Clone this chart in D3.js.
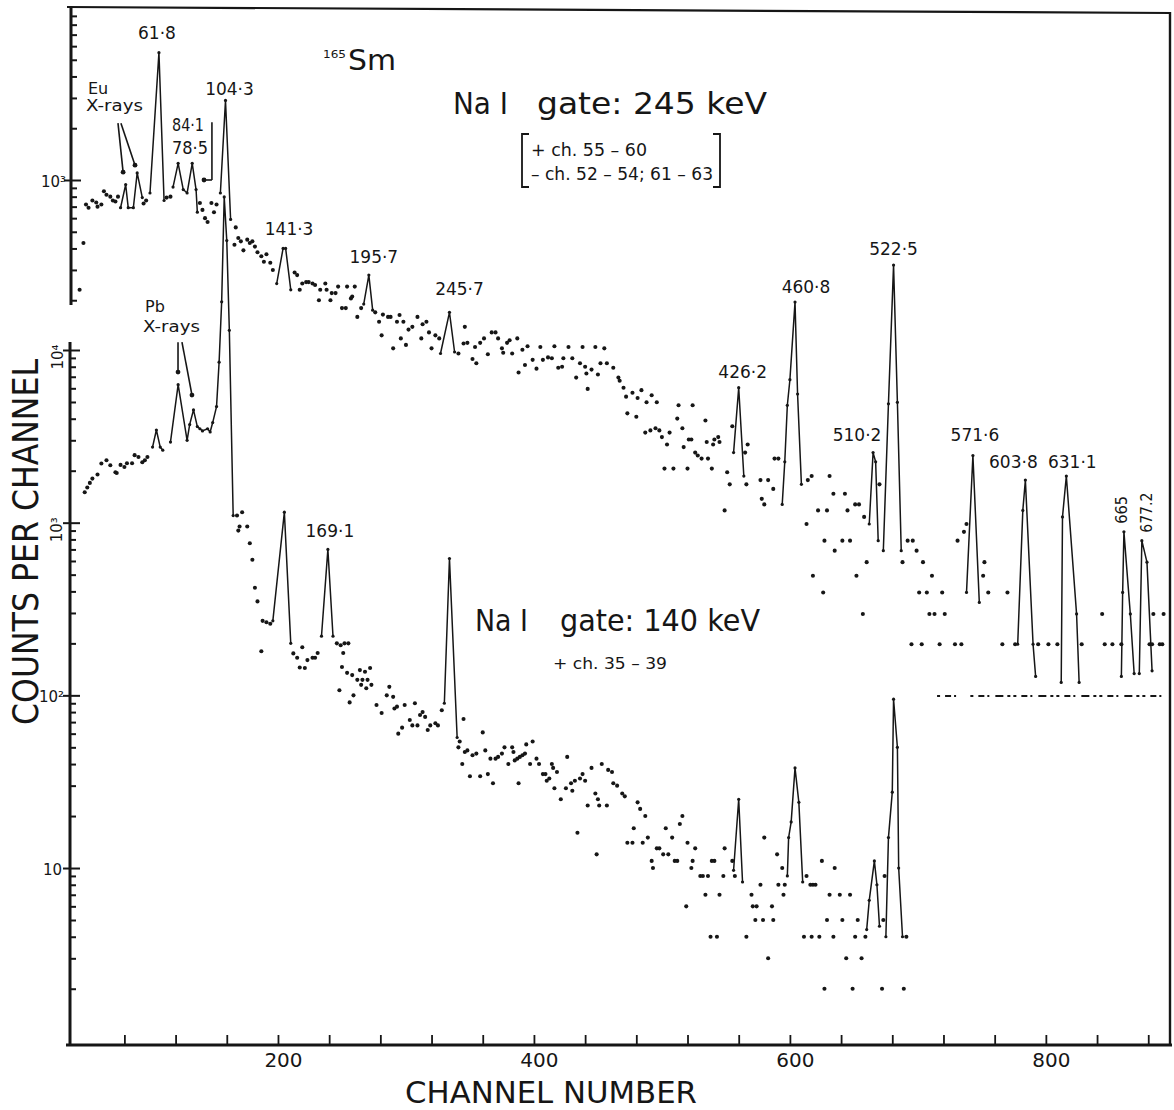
<!DOCTYPE html>
<html>
<head>
<meta charset="utf-8">
<script src="https://cdn.jsdelivr.net/npm/d3@7/dist/d3.min.js"></script>
<style>
  html, body { margin: 0; padding: 0; background: #fff; }
  svg { display: block; }
  text { font-family: "DejaVu Sans", "Liberation Sans", sans-serif; fill: #161616; }
  .narrow { font-family: "Liberation Sans Narrow", "DejaVu Sans Condensed", "Liberation Sans", sans-serif; }
</style>
</head>
<body>
<svg id="chart" width="1174" height="1110"></svg>
<script>
// ---------------------------------------------------------------
// 165Sm coincidence spectra, counts per channel vs channel number.
// Spectrum A: NaI gate 245 keV (plotted on the upper, offset scale)
// Spectrum B: NaI gate 140 keV (plotted on the lower scale)
// Each entry is [channel, counts].
// ---------------------------------------------------------------

// Gate 245 keV: isolated channel points
const gate245Points = [
  [45,230],[48,430],[50,720],[52,690],[55,760],[58,740],[59,700],[62,720],[64,860],[66,820],[69,800],[71,760],[73,750],[75,800],
  [95,730],[97,760],[113,790],[116,800],
  [139,735],[141,670],[143,600],[145,570],[148,735],[150,650],[152,720],
  [166,420],[167,530],[169,460],[171,440],[173,390],[176,450],[178,430],[180,440],[182,410],[184,380],[187,360],[189,335],[191,370],[194,330],[196,300],
  [213,290],[215,280],[217,230],[219,250],[222,255],[224,255],[227,250],[229,245],[232,200],[233,230],[237,250],[238,230],[241,200],[242,220],[245,220],[247,240],[250,180],[253,180],[254,240],[257,205],[258,210],[260,240],[262,160],[265,180],
  [276,170],[279,150],[281,125],[282,165],[286,160],[288,160],[290,105],[293,150],[295,164],[296,120],[298,150],[300,110],[302,135],[305,140],[309,160],[312,120],[313,145],[316,150],[318,130],[320,105],[323,125],[326,120],
  [341,98],[345,112],[346,140],[348,113],[352,91],[354,107],[355,86],[358,113],[361,120],[364,97],[367,130],[370,130],[372,120],[375,105],[376,99],[379,113],[381,117],[383,98],[387,120],[388,76],[391,103],[393,84],[395,108],[399,90],
  [402,80],[405,107],[407,90],[411,93],[414,92],[416,108],[419,81],[422,82],[423,92],[427,107],[430,92],[433,71],[436,86],[438,107],[440,82],[441,75],[442,61],[445,79],[448,107],[450,74],[452,86],[455,105],[457,86],
  [462,81],[466,71],[467,68],[470,62],[472,55],[473,44],[477,58],[480,42],[481,54],[484,60],[487,34],[488,51],[491,35],[492,56],[495,36],[496,51],[498,35],[500,32],
  [502,21],[504,29],[506,34],[509,21],[512,41],[513,49],[516,36],[517,28],[520,21],[521,31],[523,31],[524,49],[526,26],[528,25],[531,24],[534,40],[535,30],[536,24],[539,21],[540,29],[541,31],[544,32],[545,30],[549,12],[551,20],[553,17],[555,37],
  [565,26],[566,17],[567,29],[577,18],[578,14],[580,13],[583,18],[587,16],[588,24],[591,24],
  [613,10],[614,18],[617,19],[618,5],[622,12],[626,4],[627,8],[629,12],[631,19],[634,15],[635,7],[641,8],[643,15],[645,12],[647,8],[651,13],[652,5],[654,13],[657,3],[658,11],[660,6],
  [670,17],
  [688,6],[692,8],[695,2],[696,8],[699,7],[701,4],[703,2],[704,6],[707,4],[709,3],[711,5],[713,3],[717,2],[719,4],[721,3],[729,2],[731,8],[734,2],[736,9],[738,10],
  [751,5],[752,6],[755,4],[766,2],[770,4],[776,2],[794,2],[802,2],[809,2],
  [828,2],[844,3],[846,2],[852,2],[859,2],[881,2],[883,2],[884,3],[889,2],[891,2],[892,3]
];

// Gate 245 keV: peaks traced as connected lines
const gate245Peaks = [
  [[77,690],[81,940],[83,690],[87,690],[90,1100],[94,790]],            // Eu X-rays
  [[100,840],[107,5500],[111,760]],                                     // 61.8
  [[118,910],[122,1250],[126,880],[129,840],[133,1250],[136,880],[137,650]], // 78.5 / 84.1
  [[155,840],[159,2900],[163,590]],                                     // 104.3
  [[199,250],[204,400],[206,400],[210,230]],                            // 141.3
  [[267,190],[271,280],[274,175]],                                      // 195.7
  [[327,98],[334,170],[338,100]],                                       // 245.7
  [[556,26],[560,62],[564,19]],                                         // 426.2
  [[594,13],[596,23],[598,49],[600,69],[604,195],[606,57],[609,17]],    // 460.8
  [[662,10],[665,26],[667,23],[669,8]],                                 // 510.2
  [[673,7],[677,50],[681,320],[684,51],[687,7]],                        // 522.5
  [[738,4],[743,25],[748,3.5]],                                         // 571.6
  [[778,2],[782,12],[784,18],[790,2],[792,1.3]],                        // 603.8
  [[812,1.2],[813,11],[816,19],[824,3],[826,1.2]],                      // 631.1
  [[859,1.3],[860,4],[861,9],[866,3],[869,1.35]],                       // 665
  [[873,1.35],[875,8],[879,6],[883,1.4]]                                // 677.2
];

// Gate 245 keV: channel runs holding a single count
const gate245SingleCountRuns = [[715,734],[741,894]];

// Gate 140 keV: isolated channel points
const gate140Points = [
  [49,1500],[51,1600],[53,1700],[55,1800],[59,1900],[62,2200],[66,2300],[69,2150],[73,1960],[74,1940],[77,2160],[80,2100],[82,2210],[86,2210],[88,2460],[91,2400],[94,2240],[96,2300],[98,2400],
  [168,1100],[169,900],[170,950],[172,1150],[176,950],[178,760],[180,610],[182,420],[184,350],[187,180],[188,270],[191,265],[194,260],
  [212,175],[215,165],[217,145],[219,190],[221,144],[223,160],[227,165],[229,165],[231,176],
  [246,200],[248,107],[249,195],[250,146],[251,176],[252,200],[254,135],[255,200],[256,91],[258,131],[259,100],[262,123],[264,140],[265,115],[266,123],[268,137],[269,110],[270,123],[272,144],[273,115],
  [277,88],[281,79],[285,100],[287,112],[290,98],[291,84],[293,86],[294,60],[297,65],[299,88],[303,72],[305,67],[307,90],[309,67],[311,77],[313,80],[315,75],[317,63],[319,67],[323,69],[325,67],[328,82],
  [341,50],[342,54],[344,40],[345,73],[346,47],[348,48],[350,34],[352,45],[355,46],[358,34],[360,61],[362,48],[364,35],[366,43],[368,31],[370,43],[372,44],[375,46],[377,50],[380,40],
  [383,50],[384,47],[385,42],[387,43],[388,31],[389,44],[391,45],[393,46],[394,52],[397,40],[399,54],[402,43],[404,40],[407,35],[409,35],[410,32],[412,33],[414,40],[415,38],[416,29],[418,36],
  [421,25],[425,29],[426,44],[429,31],[430,28],[432,32],[434,16],[436,33],[438,35],[440,32],[442,23],[445,38],[448,27],[449,12],[450,25],[451,23],[453,40],[457,23],[458,37],[461,36],[462,31],[465,30],[469,27],[471,26],
  [473,14],[477,14],[478,17],[481,24],[483,22],[485,14],[487,20],[489,15],[492,11],[493,10],[496,13],[498,13],[501,12],[503,17],[505,12],[508,15],[510,11],[512,11],[514,18],[516,20],[519,6],[520,14],[523,10],[524,11],[526,13],
  [530,9],[532,9],[534,7],[536,9],[538,4],[539,11],[541,11],[543,4],[545,7],[548,9],[549,13],[555,11],[557,9],
  [566,4],[570,7],[571,6],[573,5],[574,6],[577,8],[579,5],[580,15],[583,3],[586,6],[587,5],[590,12],[591,8],[594,10],[595,7],[596,8],
  [611,4],[613,9],[616,8],[617,4],[618,8],[620,8],[623,4],[625,11],[627,2],[629,5],[631,7],[634,4],[635,10],[639,7],[641,5],[644,3],[647,7],[649,2],[651,4],[653,5],[656,3],[659,4],
  [672,2],[673,5],[674,9],[689,2],[691,4]
];

// Gate 140 keV: peaks traced as connected lines
const gate140Peaks = [
  [[102,2740],[105,3440],[108,2740],[110,2630]],
  [[116,2930],[122,6300],[129,3000],[131,3700],[134,4500],[137,3600],[139,3500],[141,3400],[145,3500],[147,3350],[149,3800],
   [152,4700],[154,8500],[156,19000],[158,77000],[160,43000],[162,13000],[165,1100]],
  [[196,270],[205,1150],[210,200]],
  [[234,220],[239,700],[243,220]],                                      // 169.1
  [[330,90],[334,620],[340,57]],
  [[556,9.7],[560,25],[563,8.3]],
  [[598,9],[599,15],[601,18.5],[604,38],[607,24],[610,8.3]],
  [[660,4.4],[662,6.5],[666,11],[668,8],[670,4.6]],
  [[675,4],[677,15],[680,27.5],[681,95],[684,50],[685,10],[688,4]]
];

// Axis ticks
const channelTicks = [80,120,160,200,240,280,320,360,400,440,480,520,560,600,640,680,720,760,800,840,880];
const channelLabels = [200,400,600,800];
const lowerMajor = [10,100,1000,10000];
const upperMajor = [1000];

// Energy labels (keV) attached to peak tops
const peakLabels = [
  {text:"61·8",  ch:107, v:5500, scale:"up",  dx:-2,  dy:-14},
  {text:"104·3", ch:159, v:2900, scale:"up",  dx:4,   dy:-5},
  {text:"141·3", ch:204, v:400,  scale:"up",  dx:6,   dy:-13},
  {text:"195·7", ch:271, v:280,  scale:"up",  dx:5,   dy:-12},
  {text:"245·7", ch:334, v:170,  scale:"up",  dx:10,  dy:-17},
  {text:"426·2", ch:560, v:62,   scale:"up",  dx:4,   dy:-10},
  {text:"460·8", ch:604, v:195,  scale:"up",  dx:11,  dy:-9},
  {text:"522·5", ch:681, v:320,  scale:"up",  dx:0,   dy:-10},
  {text:"510·2", ch:665, v:26,   scale:"up",  dx:-16, dy:-12},
  {text:"571·6", ch:743, v:25,   scale:"up",  dx:2,   dy:-15},
  {text:"603·8", ch:784, v:18,   scale:"up",  dx:-12, dy:-12},
  {text:"631·1", ch:816, v:19,   scale:"up",  dx:6,   dy:-8},
  {text:"169·1", ch:239, v:700,  scale:"low", dx:2,   dy:-12}
];
const verticalLabels = [
  {text:"665",   ch:861, v:9, scale:"up", dx:3,  dy:-8, len:28},
  {text:"677.2", ch:875, v:8, scale:"up", dx:10, dy:-8, len:40}
];

// Pointer lines for X-ray groups, in channel / count coordinates
const pointers = [
  {scale:"up",  from:[75,2140],  to:[79,1110],  head:true},
  {scale:"up",  from:[77.3,2140],to:[88.3,1220],head:true},
  {scale:"up",  from:[148.4,2170],to:[148.4,1000],head:false},
  {scale:"up",  from:[148.4,1000],to:[142.2,1000],head:true},
  {scale:"low", from:[121.9,11100],to:[121.9,7450],head:true},
  {scale:"low", from:[125,11100], to:[132.8,5480], head:true}
];

// ---------------------------------------------------------------
const ink = "#161616";
const svg = d3.select("#chart");

const x = d3.scaleLinear().domain([37.5, 897]).range([70, 1170]);
const yUp = d3.scaleLog().domain([1, 10000]).range([696, 8]);
const yLow = d3.scaleLog().domain([1, 10000]).range([1040.7, 350]);
const scaleOf = k => (k === "up" ? yUp : yLow);

// frame: top and right borders
svg.append("line").attr("x1", 67).attr("y1", 7).attr("x2", 1171).attr("y2", 13)
  .attr("stroke", ink).attr("stroke-width", 2.2);
svg.append("line").attr("x1", 1170).attr("y1", 12).attr("x2", 1170).attr("y2", 1046)
  .attr("stroke", ink).attr("stroke-width", 2.4);

// bottom channel axis, ticks pointing inward
const xAxis = d3.axisBottom(x)
  .tickValues(channelTicks)
  .tickSizeInner(-10).tickSizeOuter(0).tickPadding(8)
  .tickFormat(d => channelLabels.includes(d) ? d : "");
const gx = svg.append("g").attr("transform", "translate(0,1045)").call(xAxis);
gx.select(".domain").remove();
gx.selectAll(".tick line").attr("stroke", ink).attr("stroke-width", 1.8);
gx.selectAll(".tick text").attr("font-size", 20).attr("dx", 5)
  .attr("font-family", "DejaVu Sans, sans-serif").attr("fill", ink);
svg.append("line").attr("x1", 66).attr("y1", 1045).attr("x2", 1172).attr("y2", 1045)
  .attr("stroke", ink).attr("stroke-width", 3);

// left count axes: lower (gate 140) and upper offset segment (gate 245)
function minorValues(decades) {
  const out = [];
  decades.forEach(d => { for (let k = 2; k <= 9; k++) out.push(k * d); });
  return out;
}
function drawLogAxis(scale, xPos, minors, majors) {
  const gMinor = svg.append("g").attr("transform", `translate(${xPos},0)`)
    .call(d3.axisRight(scale).tickValues(minors).tickSize(6).tickFormat(""));
  gMinor.select(".domain").remove();
  gMinor.selectAll(".tick line").attr("stroke", ink).attr("stroke-width", 2);
  const gMajor = svg.append("g").attr("transform", `translate(${xPos - 7},0)`)
    .call(d3.axisRight(scale).tickValues(majors).tickSize(17).tickFormat(""));
  gMajor.select(".domain").remove();
  gMajor.selectAll(".tick line").attr("stroke", ink).attr("stroke-width", 2);
}
drawLogAxis(yLow, 70, minorValues([1,10,100,1000]), lowerMajor);
drawLogAxis(yUp, 71, minorValues([100,1000]).filter(v => v >= 200), upperMajor);
svg.append("line").attr("x1", 70).attr("y1", 342).attr("x2", 70).attr("y2", 1046)
  .attr("stroke", ink).attr("stroke-width", 3);
svg.append("line").attr("x1", 71).attr("y1", 6).attr("x2", 71).attr("y2", 305)
  .attr("stroke", ink).attr("stroke-width", 3);

// decade labels
const decadeLabels = [
  {t:"10",  y:yLow(10),    rot:false, xEnd:62},
  {t:"10²", y:yLow(100),   rot:false, xEnd:64},
  {t:"10³", y:yLow(1000),  rot:true,  xEnd:62},
  {t:"10⁴", y:yLow(10000), rot:true,  xEnd:63},
  {t:"10³", y:yUp(1000),   rot:false, xEnd:66}
];
decadeLabels.forEach(d => {
  if (d.rot) {
    svg.append("text").attr("transform", `translate(${d.xEnd},${d.y + 7}) rotate(-90)`)
      .attr("text-anchor", "middle").attr("font-size", 15).text(d.t);
  } else {
    svg.append("text").attr("x", d.xEnd).attr("y", d.y + 7)
      .attr("text-anchor", "end").attr("font-size", 15).text(d.t);
  }
});

// axis titles
svg.append("text").attr("class", "narrow")
  .attr("x", 405).attr("y", 1103)
  .attr("font-size", 31).attr("textLength", 292).attr("lengthAdjust", "spacingAndGlyphs")
  .text("CHANNEL  NUMBER");
svg.append("text").attr("class", "narrow")
  .attr("transform", "translate(38,542) rotate(-90)")
  .attr("text-anchor", "middle")
  .attr("font-size", 35).attr("textLength", 366).attr("lengthAdjust", "spacingAndGlyphs")
  .text("COUNTS  PER  CHANNEL");

// spectra
function drawSpectrum(points, peaks, scale) {
  const line = d3.line().x(d => x(d[0])).y(d => scale(d[1]));
  svg.append("g").selectAll("path").data(peaks).join("path")
    .attr("d", line).attr("fill", "none").attr("stroke", ink)
    .attr("stroke-width", 1.5).attr("stroke-linejoin", "round");
  svg.append("g").selectAll("circle").data(peaks.flat()).join("circle")
    .attr("cx", d => x(d[0])).attr("cy", d => scale(d[1])).attr("r", 1.6).attr("fill", ink);
  svg.append("g").selectAll("circle").data(points).join("circle")
    .attr("cx", d => x(d[0])).attr("cy", d => scale(d[1])).attr("r", 2.05).attr("fill", ink);
}
drawSpectrum(gate245Points, gate245Peaks, yUp);
drawSpectrum(gate140Points, gate140Peaks, yLow);

// single-count channel runs of the 245 keV spectrum
svg.append("g").selectAll("line").data(gate245SingleCountRuns).join("line")
  .attr("x1", d => x(d[0])).attr("x2", d => x(d[1]))
  .attr("y1", yUp(1)).attr("y2", yUp(1))
  .attr("stroke", ink).attr("stroke-width", 2.2)
  .attr("stroke-dasharray", "3 5 6 3 2 6 8 4 3 3");

// peak energy labels
svg.append("g").selectAll("text").data(peakLabels).join("text")
  .attr("x", d => x(d.ch) + d.dx)
  .attr("y", d => scaleOf(d.scale)(d.v) + d.dy)
  .attr("text-anchor", "middle").attr("font-size", 17)
  .text(d => d.text);
svg.append("g").selectAll("text").data(verticalLabels).join("text")
  .attr("transform", d => `translate(${x(d.ch) + d.dx},${scaleOf(d.scale)(d.v) + d.dy}) rotate(-90)`)
  .attr("font-size", 16).attr("textLength", d => d.len).attr("lengthAdjust", "spacingAndGlyphs")
  .text(d => d.text);

// pointer lines
pointers.forEach(p => {
  const s = scaleOf(p.scale);
  svg.append("line")
    .attr("x1", x(p.from[0])).attr("y1", s(p.from[1]))
    .attr("x2", x(p.to[0])).attr("y2", s(p.to[1]))
    .attr("stroke", ink).attr("stroke-width", 1.6);
  if (p.head) {
    svg.append("circle").attr("cx", x(p.to[0])).attr("cy", s(p.to[1])).attr("r", 2.4).attr("fill", ink);
  }
});

// annotations
const small = (tx, ty, t, size, len) => {
  const el = svg.append("text").attr("x", tx).attr("y", ty).attr("font-size", size).text(t);
  if (len) el.attr("textLength", len).attr("lengthAdjust", "spacingAndGlyphs");
  return el;
};
small(88, 94, "Eu", 16);
small(86, 111, "X-rays", 16, 57);
small(172, 131, "84·1", 17, 32);
small(172, 154, "78·5", 17, 36);
small(145, 312, "Pb", 16);
small(143, 332, "X-rays", 16, 57);

// isotope
small(323, 58, "165", 11, 23);
small(348, 70, "Sm", 28, 48);

// gate descriptions
small(453, 114, "Na I", 31, 55);
small(537, 114, "gate:  245 keV", 31, 230);
small(531, 156, "+ ch. 55 – 60", 17, 116);
small(531, 180, "– ch. 52 – 54; 61 – 63", 17, 182);
const bracket = (xv, dir) => {
  svg.append("path")
    .attr("d", `M${xv + 7 * dir},134 H${xv} V187 H${xv + 7 * dir}`)
    .attr("fill", "none").attr("stroke", ink).attr("stroke-width", 1.8);
};
bracket(522, 1);
bracket(720, -1);
small(475, 631, "Na I", 31, 53);
small(560, 631, "gate:  140 keV", 31, 200);
small(553, 669, "+ ch. 35 – 39", 16, 114);
</script>
</body>
</html>
